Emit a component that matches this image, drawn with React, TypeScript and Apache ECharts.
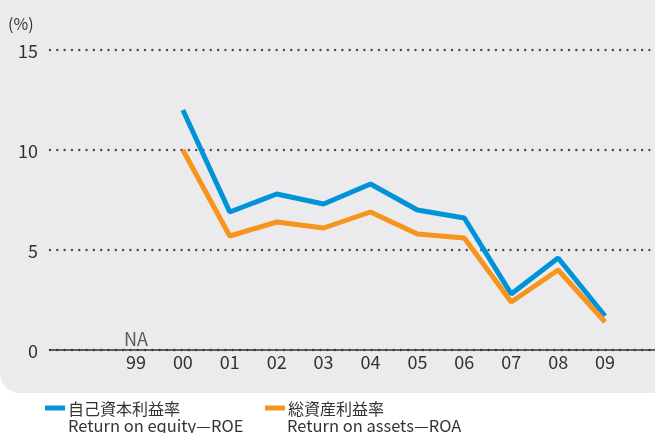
import React, { useEffect, useRef } from "react";
import * as echarts from "echarts";

const years = ["99", "00", "01", "02", "03", "04", "05", "06", "07", "08", "09"];
const roe = [null, 12.0, 6.9, 7.8, 7.3, 8.3, 7.0, 6.6, 2.8, 4.6, 1.7];
const roa = [null, 10.0, 5.7, 6.4, 6.1, 6.9, 5.8, 5.6, 2.4, 4.0, 1.4];
const notAvailable = ["99"];
const seriesNames = ["自己資本利益率", "総資産利益率"];
const seriesNamesEn = ["Return on equity—ROE", "Return on assets—ROA"];
const yTicks = { min: 0, max: 15, interval: 5 };

const BLUE = "#0093d7";
const ORANGE = "#f7941d";
const TEXT = "#333333";
const FONT = "'Noto Sans CJK JP', 'Noto Sans', sans-serif";

export default function App() {
  const ref = useRef<HTMLDivElement>(null);
  useEffect(() => {
    if (!ref.current) return;
    const chart = echarts.init(ref.current, null, { renderer: "svg" });
    chart.setOption({
      animation: false,
      textStyle: { fontFamily: FONT },
      graphic: [
        {
          type: "rect",
          z: -100,
          silent: true,
          shape: { x: 0, y: 0, width: 655, height: 393, r: [0, 0, 0, 20] },
          style: { fill: "#ebebee" },
        },
        {
          type: "text",
          left: 68,
          top: 417,
          style: { text: seriesNamesEn[0], fill: TEXT, fontSize: 16.5, lineHeight: 16, fontFamily: FONT },
        },
        {
          type: "text",
          left: 287,
          top: 417,
          style: { text: seriesNamesEn[1], fill: TEXT, fontSize: 16.5, lineHeight: 16, fontFamily: FONT },
        },
      ],
      legend: [
        {
          data: [seriesNames[0]],
          left: 45,
          top: 400,
          icon: "rect",
          itemWidth: 20,
          itemHeight: 5,
          itemGap: 4,
          padding: 0,
          textStyle: { color: TEXT, fontSize: 16, lineHeight: 16, fontFamily: FONT, padding: [0, 0, 0, -2] },
        },
        {
          data: [seriesNames[1]],
          left: 265,
          top: 400,
          icon: "rect",
          itemWidth: 20,
          itemHeight: 5,
          itemGap: 4,
          padding: 0,
          textStyle: { color: TEXT, fontSize: 16, lineHeight: 16, fontFamily: FONT, padding: [0, 0, 0, -2] },
        },
      ],
      grid: [
        { left: 50, right: 0, top: 50, bottom: 83, outerBoundsMode: "none", containLabel: false },
        { left: 112.5, right: 26.5, top: 50, bottom: 83, outerBoundsMode: "none", containLabel: false },
      ],
      xAxis: [
        {
          type: "value",
          gridIndex: 0,
          min: 0,
          max: 1,
          axisLine: { show: true, lineStyle: { color: "#333", width: 1.5 } },
          axisTick: { show: false },
          axisLabel: { show: false },
          splitLine: { show: false },
          z: 5,
        },
        {
          type: "category",
          gridIndex: 1,
          data: years,
          boundaryGap: true,
          axisLine: { show: false },
          axisTick: { show: false },
          axisLabel: { color: TEXT, fontSize: 18, margin: 2, fontFamily: FONT },
          splitLine: { show: false },
        },
      ],
      yAxis: [
        {
          type: "value",
          gridIndex: 0,
          min: yTicks.min,
          max: yTicks.max,
          interval: yTicks.interval,
          name: "(%)",
          nameLocation: "end",
          nameGap: 19,
          nameTextStyle: { color: TEXT, fontSize: 16, align: "left", verticalAlign: "bottom", padding: [0, 0, 0, -42] },
          axisLine: { show: false },
          axisTick: { show: false },
          axisLabel: { color: TEXT, fontSize: 18, margin: 12, fontFamily: FONT },
          splitLine: { show: true, lineStyle: { color: "#4a4a4a", width: 2.4, type: [0.01, 7.3], cap: "round" } },
        },
        {
          type: "value",
          gridIndex: 1,
          min: yTicks.min,
          max: yTicks.max,
          interval: yTicks.interval,
          show: false,
          splitLine: { show: false },
        },
      ],
      series: [
        {
          name: seriesNames[0],
          type: "line",
          xAxisIndex: 1,
          yAxisIndex: 1,
          data: roe,
          symbol: "none",
          color: BLUE,
          lineStyle: { color: BLUE, width: 5 },
          z: 3,
        },
        {
          name: seriesNames[1],
          type: "line",
          xAxisIndex: 1,
          yAxisIndex: 1,
          data: roa,
          symbol: "none",
          color: ORANGE,
          lineStyle: { color: ORANGE, width: 5 },
          z: 4,
        },
        {
          name: "NA",
          type: "scatter",
          xAxisIndex: 1,
          yAxisIndex: 1,
          data: notAvailable.map((c) => [c, 0]),
          symbolSize: 1,
          itemStyle: { color: "rgba(0,0,0,0)" },
          label: {
            show: true,
            position: "top",
            distance: 3,
            formatter: "NA",
            color: TEXT,
            fontSize: 18,
            fontFamily: FONT,
          },
          silent: true,
        },
      ],
    });
    return () => chart.dispose();
  }, []);
  return <div ref={ref} style={{ position: "fixed", left: 0, top: 0, width: 655, height: 433 }} />;
}
